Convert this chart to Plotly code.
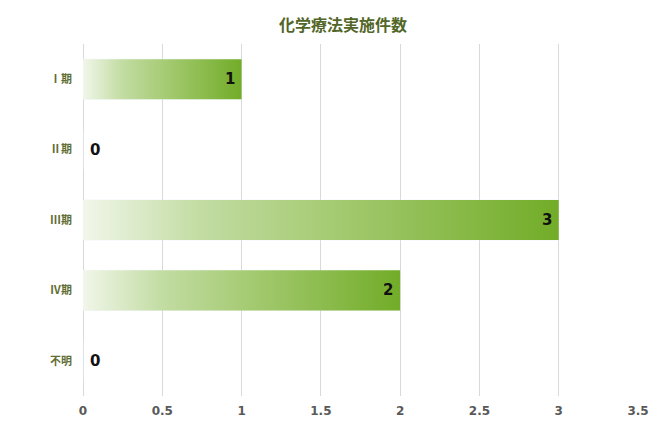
import plotly.graph_objects as go

# chart data
categories = ["Ⅰ期", "Ⅱ期", "Ⅲ期", "Ⅳ期", "不明"]
counts = [1, 0, 3, 2, 0]
x_ticks = [0, 0.5, 1, 1.5, 2, 2.5, 3, 3.5]

title_text = "化学療法実施件数"
bar_width = 0.57
grad = [[0, "#f1f6ea"], [0.25, "#c2dca2"], [0.55, "#a2c96e"], [1, "#72ac28"]]
jp_font = "Noto Sans CJK JP"
num_font = "DejaVu Sans"

idx = list(range(len(categories)))

fig = go.Figure()

# plain bar trace (transparent) - gradient is painted on top of it
fig.add_trace(go.Bar(
    x=counts, y=idx, orientation="h", width=bar_width,
    marker=dict(color="rgba(0,0,0,0)"),
    hovertext=categories, hoverinfo="text+x",
    showlegend=False,
))

# gradient fill per bar (plotly bars have no gradient option)
for i, v in zip(idx, counts):
    if v <= 0:
        continue
    y0, y1 = i - bar_width / 2, i + bar_width / 2
    fig.add_trace(go.Scatter(
        x=[0, v, v, 0, 0], y=[y0, y0, y1, y1, y0],
        mode="lines", line=dict(width=0),
        fill="toself",
        fillgradient=dict(type="horizontal", colorscale=grad),
        hoverinfo="skip", showlegend=False,
    ))

# value labels: inside at the bar end, or just right of the axis for zeros
for i, v in zip(idx, counts):
    fig.add_annotation(
        x=v, y=i, text=str(v), showarrow=False,
        xanchor="right" if v > 0 else "left",
        xshift=-5 if v > 0 else 5,
        font=dict(family=num_font, size=15, color="#111111", weight="bold"),
    )

fig.update_layout(
    width=670, height=436,
    margin=dict(l=75, r=40, t=36, b=48),
    paper_bgcolor="white", plot_bgcolor="white",
    title=dict(text=title_text, x=0.5, xanchor="center", y=0.961, yanchor="middle",
               font=dict(family=jp_font, size=16, color="#526628", weight="bold")),
    xaxis=dict(range=[0, 3.5], tickvals=x_ticks, ticktext=[str(t) for t in x_ticks],
               showgrid=True, gridcolor="#d9d9d9", gridwidth=1,
               zeroline=True, zerolinecolor="#d9d9d9", zerolinewidth=1,
               showline=False, ticks="", ticklabelstandoff=6, automargin=False,
               tickfont=dict(family=num_font, size=12, color="#595959", weight="bold")),
    yaxis=dict(range=[len(categories) - 0.5, -0.5], tickvals=idx, ticktext=categories,
               showgrid=False, zeroline=False, showline=False, ticks="",
               ticklabelstandoff=10, automargin=False,
               tickfont=dict(family=jp_font, size=11, color="#5f6e35", weight="bold")),
)

fig.write_html("out.html")
